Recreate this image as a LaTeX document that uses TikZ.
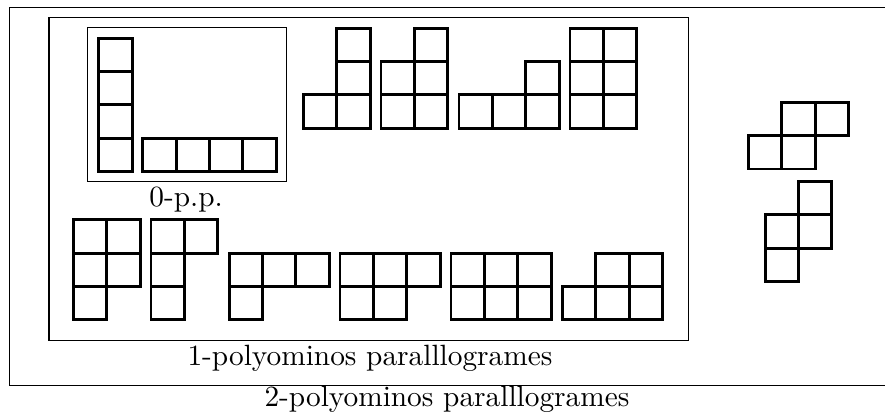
\documentclass[tikz,border=0pt]{standalone}
\usetikzlibrary{positioning}

% one polyomino: shift (cm), then list of cells i/j
\newcommand{\polyo}[3]{%
  \begin{scope}[xshift=#1cm, yshift=#2cm, x=0.4cm, y=0.4cm]
    \foreach \i/\j in {#3}
      \draw[cellline] (\i,\j) rectangle ++(1,1);
  \end{scope}}

\begin{document}
\begin{tikzpicture}[
        cellline/.style={line width=1pt},
        frame/.style={line width=0.4pt},
        caption/.style={anchor=base, inner sep=0pt}
    ]
    \useasboundingbox (0,0) rectangle (10.599,4.970);

    % frames
    \coordinate (outerNW) at (0.114,4.880);
    \coordinate (outerSW) at (0.114,0.351);
    \draw[frame] (10.6,4.880) -- (outerNW) -- (outerSW) -- (10.6,0.351);
    \coordinate (innerSW) at (0.587,0.892);
    \coordinate (innerNE) at (8.243,4.760);
    \draw[frame] (innerSW) rectangle (innerNE);
    \coordinate (zeroSW) at (1.050,2.794);
    \coordinate (zeroNE) at (3.434,4.643);
    \draw[frame] (zeroSW) rectangle (zeroNE);

    % captions
    \node[caption] (zerolab) at (2.228,2.497) {0-p.p.};
    \node[caption] (onelab) at (4.431,0.593) {1-polyominos paralllogrames};
    \node[caption] (twolab) at (5.353,0.102) {2-polyominos paralllogrames};

    % 0-p.p.
    \polyo{1.182}{2.914}{0/0,0/1,0/2,0/3}
    \polyo{1.709}{2.914}{0/0,1/0,2/0,3/0}

    % 1-p.p., top row
    \polyo{3.632}{3.434}{0/0,1/0,1/1,1/2}
    \polyo{4.563}{3.434}{0/0,1/0,0/1,1/1,1/2}
    \polyo{5.497}{3.434}{0/0,1/0,2/0,2/1}
    \polyo{6.826}{3.434}{0/0,1/0,0/1,1/1,0/2,1/2}

    % 1-p.p., bottom row
    \polyo{0.878}{1.138}{0/0,0/1,1/1,0/2,1/2}
    \polyo{1.808}{1.138}{0/0,0/1,0/2,1/2}
    \polyo{2.743}{1.138}{0/0,0/1,1/1,2/1}
    \polyo{4.072}{1.138}{0/0,1/0,0/1,1/1,2/1}
    \polyo{5.401}{1.138}{0/0,1/0,2/0,0/1,1/1,2/1}
    \polyo{6.734}{1.138}{0/0,1/0,2/0,1/1,2/1}

    % 2-p.p.
    \polyo{8.962}{2.946}{0/0,1/0,1/1,2/1}
    \polyo{9.162}{1.596}{0/0,0/1,1/1,1/2}
\end{tikzpicture}
\end{document}
